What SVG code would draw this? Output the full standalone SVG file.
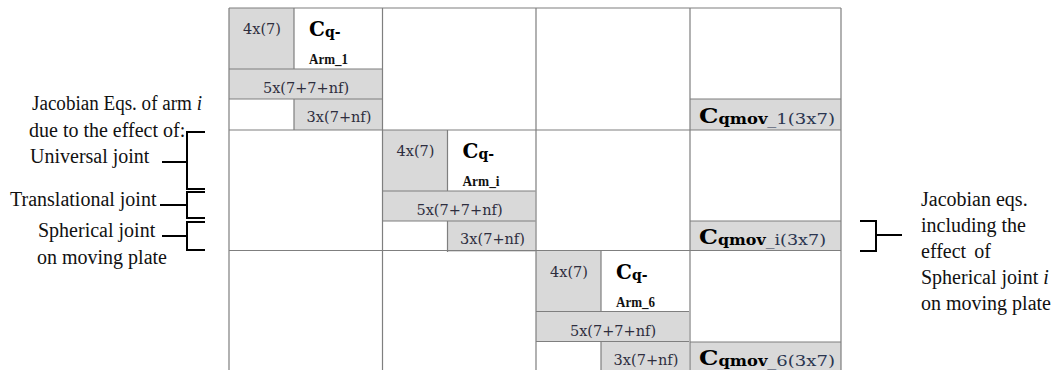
<svg xmlns="http://www.w3.org/2000/svg" width="1053" height="370" viewBox="0 0 1053 370">
<style>
.bg{fill:#ffffff}
.gray{fill:#d9d9d9}
.ln{stroke:#7f7f7f;stroke-width:1.2;fill:none}
.num{font-family:"DejaVu Serif",serif;font-size:14.5px;fill:#2e2e3e;text-anchor:middle}
.bc{font-family:"DejaVu Serif",serif;font-weight:bold;fill:#000}
.arm{font-family:"Liberation Serif","Times New Roman",serif;font-weight:bold;font-size:15px;fill:#111}
.lab{font-family:"Liberation Serif","Times New Roman",serif;font-size:20px;fill:#111}
.br{stroke:#000;stroke-width:2;fill:none}
.sub{font-family:"DejaVu Serif",serif;font-size:15.5px;fill:#2a3550;font-weight:normal}
</style>
<defs>
<g id="blk">
<rect class="gray" x="229" y="8" width="65" height="61"/>
<rect class="gray" x="229" y="69" width="153" height="30"/>
<rect class="gray" x="294" y="99" width="88" height="31"/>
<path class="ln" d="M229 69H382M229 99H382M294 8V69M294 99V130"/>
<text class="num" x="262" y="34">4x(7)</text>
<text class="num" x="306" y="93">5x(7+7+nf)</text>
<text class="num" x="339" y="122">3x(7+nf)</text>
</g>
</defs>
<rect class="bg" x="0" y="0" width="1053" height="370"/>
<g id="block1">
<use href="#blk"/>
<text class="bc" x="309" y="36"><tspan font-size="20">C</tspan><tspan font-size="14" dy="1">q-</tspan></text>
<text class="arm" x="309" y="64" textLength="39" lengthAdjust="spacingAndGlyphs">Arm_1</text>
</g>
<g id="block2" transform="translate(153.5,122)">
<use href="#blk"/>
<text class="bc" x="309" y="36"><tspan font-size="20">C</tspan><tspan font-size="14" dy="1">q-</tspan></text>
<text class="arm" x="309" y="64" textLength="37" lengthAdjust="spacingAndGlyphs" font-weight="600">Arm_i</text>
</g>
<g id="block3" transform="translate(307,242.5)">
<use href="#blk"/>
<text class="bc" x="309" y="36"><tspan font-size="20">C</tspan><tspan font-size="14" dy="1">q-</tspan></text>
<text class="arm" x="309" y="64" textLength="39" lengthAdjust="spacingAndGlyphs">Arm_6</text>
</g>
<g id="cqmov1">
<rect class="gray" x="690" y="99" width="151" height="31"/>
<path class="ln" d="M690 99H841"/>
<text class="bc" x="699" y="123" textLength="136" lengthAdjust="spacingAndGlyphs"><tspan font-size="21">C</tspan><tspan font-size="14" dy="1">qmov</tspan><tspan class="sub">_1(3x7)</tspan></text>
</g>
<g id="cqmovi">
<rect class="gray" x="690" y="221" width="151" height="29.5"/>
<path class="ln" d="M690 221H841"/>
<text class="bc" x="699" y="244" textLength="127" lengthAdjust="spacingAndGlyphs"><tspan font-size="21">C</tspan><tspan font-size="14" dy="1">qmov</tspan><tspan class="sub">_i(3x7)</tspan></text>
</g>
<g id="cqmov6">
<rect class="gray" x="690" y="342" width="151" height="30"/>
<path class="ln" d="M690 342H841"/>
<text class="bc" x="699" y="365" textLength="136" lengthAdjust="spacingAndGlyphs"><tspan font-size="21">C</tspan><tspan font-size="14" dy="1">qmov</tspan><tspan class="sub">_6(3x7)</tspan></text>
</g>
<g id="grid">
<path class="ln" d="M229 8H841M229 130H841M229 250.5H841M229 8V370M382.5 8V370M536 8V370M690 8V370M841 8V370"/>
</g>
<g id="left-labels">
<text class="lab" x="32" y="110" textLength="170" lengthAdjust="spacingAndGlyphs">Jacobian Eqs. of arm <tspan font-style="italic">i</tspan></text>
<text class="lab" x="29" y="137">due to the effect of:</text>
<text class="lab" x="30" y="163">Universal joint</text>
<text class="lab" x="10" y="206">Translational joint</text>
<text class="lab" x="38" y="237">Spherical joint</text>
<text class="lab" x="37" y="264">on moving plate</text>
</g>
<g id="right-labels">
<text class="lab" x="921" y="206">Jacobian eqs.</text>
<text class="lab" x="921" y="232">including the</text>
<text class="lab" x="921" y="258" word-spacing="3">effect of</text>
<text class="lab" x="921" y="284">Spherical joint <tspan font-style="italic">i</tspan></text>
<text class="lab" x="921" y="310">on moving plate</text>
</g>
<g id="connectors">
<path class="br" d="M205 132H187V189H205M162 162H187"/>
<path class="br" d="M205 192H187V218H205M160 205H187"/>
<path class="br" d="M205 222H187V250H205M162 236H187"/>
<path class="br" d="M860 221H876V251H860M876 235H902"/>
</g>
</svg>
